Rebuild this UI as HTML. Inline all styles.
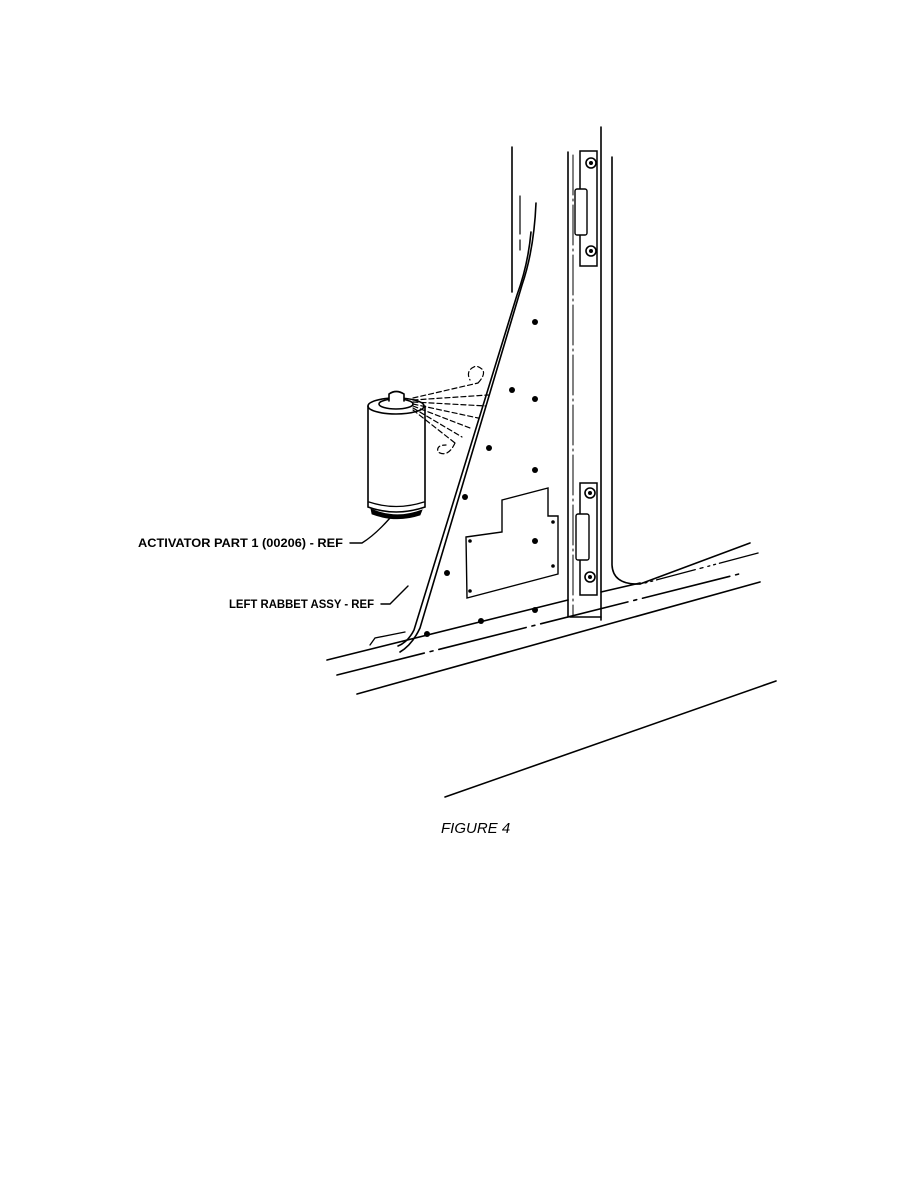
<!DOCTYPE html>
<html><head><meta charset="utf-8"><style>
html,body{margin:0;padding:0;background:#fff;}
body{width:918px;height:1188px;position:relative;overflow:hidden;}
svg{position:absolute;left:0;top:0;}
</style></head><body>
<svg width="918" height="1188" viewBox="0 0 918 1188" xmlns="http://www.w3.org/2000/svg">
<g fill="none" stroke="#000" stroke-width="1.6" stroke-linecap="round">
<line x1="512" y1="147" x2="512" y2="292"/>
<line x1="520" y1="196" x2="520" y2="234" stroke-width="1.2"/>
<line x1="520" y1="240" x2="520" y2="250" stroke-width="1.2"/>
<path d="M536 203 Q534 250 522 285 L420 628 Q412 645 400 652"/>
<path d="M531 232 Q528 265 517 295 L414 630 Q408 642 398 646"/>
<path d="M370 645 L375 638 L405 632" stroke-width="1.3"/>
<line x1="568" y1="152" x2="568" y2="617"/>
<line x1="573" y1="155" x2="573" y2="615" stroke-width="1" stroke-dasharray="40 4 2 4"/>
<line x1="601" y1="127" x2="601" y2="620"/>
<path d="M612 157 L612 565 Q613 585 640 584"/>
<line x1="570" y1="617" x2="601" y2="617"/>
<line x1="327" y1="660" x2="568" y2="600"/>
<line x1="601" y1="592" x2="640" y2="583"/>
<path d="M337 675 L743 573" stroke-dasharray="90 6 3 6"/>
<line x1="357" y1="694" x2="760" y2="582"/>
<path d="M640 584 L750 543" />
<path d="M645 583 L762 552" stroke-dasharray="2 4 2 4 40 5 3 5" stroke-width="1.3"/>
<line x1="445" y1="797" x2="776" y2="681"/>
<path d="M466 537 L502 532 L502 500 L548 488 L548 516 L558 516 L558 574 L467 598 Z" stroke-width="1.4"/>
<rect x="580" y="151" width="17" height="115" stroke-width="1.5"/>
<rect x="575" y="189" width="12" height="46" rx="2" fill="#fff" stroke-width="1.4"/>
<circle cx="591" cy="163" r="5"/><circle cx="591" cy="251" r="5"/>
<rect x="580" y="483" width="17" height="112" stroke-width="1.5"/>
<rect x="576" y="514" width="13" height="46" rx="2" fill="#fff" stroke-width="1.4"/>
<circle cx="590" cy="493" r="5"/><circle cx="590" cy="577" r="5"/>
<path d="M368 406 L368 507 Q396 517 425 507 L425 406" stroke-width="1.6"/>
<ellipse cx="396" cy="406" rx="28" ry="8"/>
<ellipse cx="396" cy="404" rx="17" ry="5"/>
<path d="M369 502 Q396 511 424 502" stroke-width="1.3"/>
<path d="M371 509 Q396 520 422 510 L420 515 Q396 523 372 514 Z" fill="#000" stroke-width="0.8"/>
<path d="M389 401 L389 394 Q396 389 404 394 L404 401" fill="#fff"/>
<g stroke-width="1.2" stroke-dasharray="5 3">
<path d="M413 398 L478 383"/>
<path d="M413 400 L488 395"/>
<path d="M413 402 L486 406"/>
<path d="M413 404 L478 418"/>
<path d="M413 406 L470 428"/>
<path d="M413 408 L462 437"/>
<path d="M413 410 L455 443"/>
<path d="M478 383 Q490 370 476 366 Q465 370 470 380"/>
<path d="M455 443 Q448 458 438 452 Q436 445 446 445"/>
</g>
<path d="M350 543 L362 543 Q375 535 390 518" stroke-width="1.4"/>
<path d="M381 604 L390 604 Q398 596 408 586" stroke-width="1.4"/>
</g>
<g fill="#000">
<circle cx="535" cy="322" r="3"/><circle cx="512" cy="390" r="3"/><circle cx="535" cy="399" r="3"/>
<circle cx="489" cy="448" r="3"/><circle cx="535" cy="470" r="3"/><circle cx="465" cy="497" r="3"/>
<circle cx="535" cy="541" r="3"/><circle cx="447" cy="573" r="3"/><circle cx="481" cy="621" r="3"/>
<circle cx="535" cy="610" r="3"/><circle cx="427" cy="634" r="3"/>
<circle cx="470" cy="541" r="1.8"/><circle cx="553" cy="522" r="1.8"/><circle cx="553" cy="566" r="1.8"/><circle cx="470" cy="591" r="1.8"/>
<circle cx="591" cy="163" r="2"/><circle cx="591" cy="251" r="2"/><circle cx="590" cy="493" r="2"/><circle cx="590" cy="577" r="2"/>
</g>
<g font-family="Liberation Sans, sans-serif" font-weight="bold" font-size="11.5" fill="#000">
<text x="138" y="547" textLength="205" lengthAdjust="spacingAndGlyphs">ACTIVATOR PART 1 (00206) - REF</text>
<text x="229" y="608" textLength="145" lengthAdjust="spacingAndGlyphs">LEFT RABBET ASSY - REF</text>
</g>
<text x="441" y="833" font-family="Liberation Sans, sans-serif" font-style="italic" font-size="15" fill="#000">FIGURE 4</text>
</svg>
</body></html>
